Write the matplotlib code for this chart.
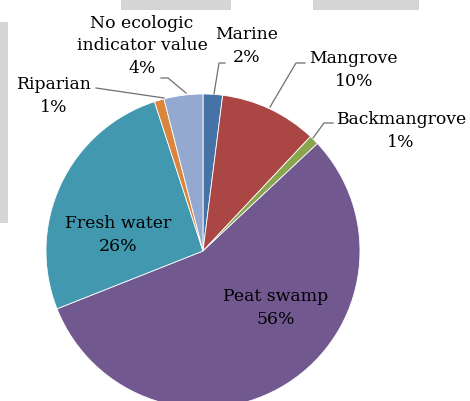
import matplotlib
matplotlib.use("Agg")
import matplotlib.pyplot as plt
from matplotlib.patches import Rectangle

# Habitat categories (clockwise from 12 o'clock) and their shares in percent
categories = ["Marine", "Mangrove", "Backmangrove", "Peat swamp",
              "Fresh water", "Riparian", "No ecologic\nindicator value"]
shares = [2, 10, 1, 56, 26, 1, 4]
colors = ["#4572A7", "#AA4643", "#89A54E", "#71588F",
          "#4198AF", "#DB843D", "#93A9CF"]

W, H = 470, 401
fig = plt.figure(figsize=(W / 100, H / 100), dpi=100)
fig.patch.set_facecolor("white")
ax = fig.add_axes([0, 0, 1, 1])

# grey page fragments around the chart
for (x0, y0, w, h) in [(121, 0, 110, 10), (313, 0, 106, 10), (0, 22, 8, 201)]:
    ax.add_patch(Rectangle((x0, H - y0 - h), w, h, facecolor="#D5D5D5",
                           edgecolor="none", zorder=0))

cx, cy, r = 203, H - 251, 157
ax.pie(shares, colors=colors, startangle=90, counterclock=False,
       center=(cx, cy), radius=r, frame=True,
       wedgeprops=dict(edgecolor="white", linewidth=0.6))
ax.set_xlim(0, W)
ax.set_ylim(0, H)
ax.set_aspect("equal")
ax.axis("off")

font = dict(family="DejaVu Serif", fontsize=12.4, color="black",
            ha="center", va="center", linespacing=1.4)

def label(i, x, y):
    ax.text(x, H - y, f"{categories[i]}\n{shares[i]}%", **font)

label(0, 247, 46)
label(1, 354, 70)
label(2, 401, 131)
label(3, 276, 308)
label(4, 118, 235)
label(5, 54, 96)
label(6, 142, 46)

lc = dict(color="#6f6f6f", linewidth=0.9)
leaders = [
    [(214, 94), (219, 63), (225, 63)],
    [(270, 107), (296, 63), (305, 63)],
    [(313, 138), (324, 123), (333, 123)],
    [(186, 93), (168, 78), (161, 78)],
    [(96, 88), (164, 98)],
]
for pts in leaders:
    ax.plot([p[0] for p in pts], [H - p[1] for p in pts], **lc)

fig.savefig("out.png", dpi=100)
